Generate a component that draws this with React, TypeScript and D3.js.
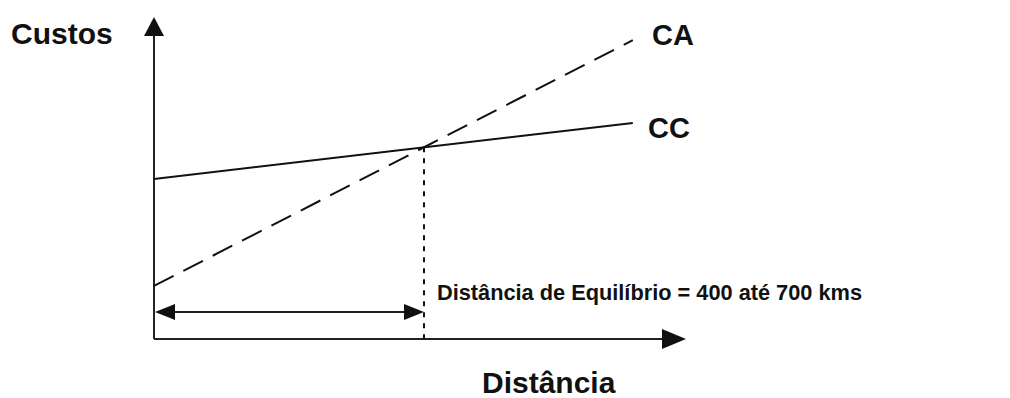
import React from "react";
import * as d3 from "d3";

const distance = [0, 90];
const ccValues = [50, 67.5];
const caValues = [16.6, 93.4];
const equilibrium = 50.75;
const labels = {
  y: "Custos",
  x: "Distância",
  ca: "CA",
  cc: "CC",
  note: "Distância de Equilíbrio = 400 até 700 kms",
};

const W = 1010;
const H = 398;
const x = d3.scaleLinear().domain([0, 100]).range([154, 686]);
const y = d3.scaleLinear().domain([0, 100]).range([339, 19]);

export default function App() {
  const line = d3
    .line<number>()
    .x((_, i) => x(distance[i]))
    .y((d) => y(d));
  const x0 = x(0);
  const y0 = y(0);
  const xe = x(equilibrium);
  const arrowY = 312;
  const font = "Arial, 'Liberation Sans', sans-serif";
  return (
    <svg
      width={W}
      height={H}
      style={{ position: "absolute", left: 0, top: 0, background: "#fff" }}
    >
      {/* axes */}
      <line x1={x0} y1={y0} x2={x0} y2={y(100) + 14} stroke="#222" strokeWidth={2} />
      <path d={`M${x0 - 10},${y(100) + 17} L${x0},${y(100) - 2} L${x0 + 10},${y(100) + 17} Z`} fill="#111" />
      <line x1={x0} y1={y0} x2={x(100) - 22} y2={y0} stroke="#222" strokeWidth={2} />
      <path d={`M${x(100) - 24},${y0 - 10} L${x(100)},${y0} L${x(100) - 24},${y0 + 10} Z`} fill="#111" />

      {/* CC line */}
      <path d={line(ccValues) || ""} fill="none" stroke="#111" strokeWidth={2} />
      {/* CA dashed */}
      <path d={line(caValues) || ""} fill="none" stroke="#111" strokeWidth={2} strokeDasharray="22,11" />

      {/* dotted vertical */}
      <line x1={xe} y1={y(59.9)} x2={xe} y2={y0} stroke="#111" strokeWidth={2} strokeDasharray="5,6" />

      {/* double arrow */}
      <line x1={x0 + 15} y1={arrowY} x2={xe - 15} y2={arrowY} stroke="#222" strokeWidth={2} />
      <path d={`M${x0 + 1},${arrowY} L${x0 + 21},${arrowY - 8} L${x0 + 21},${arrowY + 8} Z`} fill="#111" />
      <path d={`M${xe},${arrowY} L${xe - 20},${arrowY - 8} L${xe - 20},${arrowY + 8} Z`} fill="#111" />

      {/* labels */}
      <text x={11} y={44} fontFamily={font} fontWeight="bold" fontSize={30} fill="#111">{labels.y}</text>
      <text x={652} y={45} fontFamily={font} fontWeight="bold" fontSize={29} fill="#111">{labels.ca}</text>
      <text x={648} y={138} fontFamily={font} fontWeight="bold" fontSize={29} fill="#111">{labels.cc}</text>
      <text x={437} y={300} fontFamily={font} fontWeight="bold" fontSize={22} fill="#111" textLength={425} lengthAdjust="spacingAndGlyphs">{labels.note}</text>
      <text x={482} y={393} fontFamily={font} fontWeight="bold" fontSize={30} fill="#111">{labels.x}</text>
    </svg>
  );
}
